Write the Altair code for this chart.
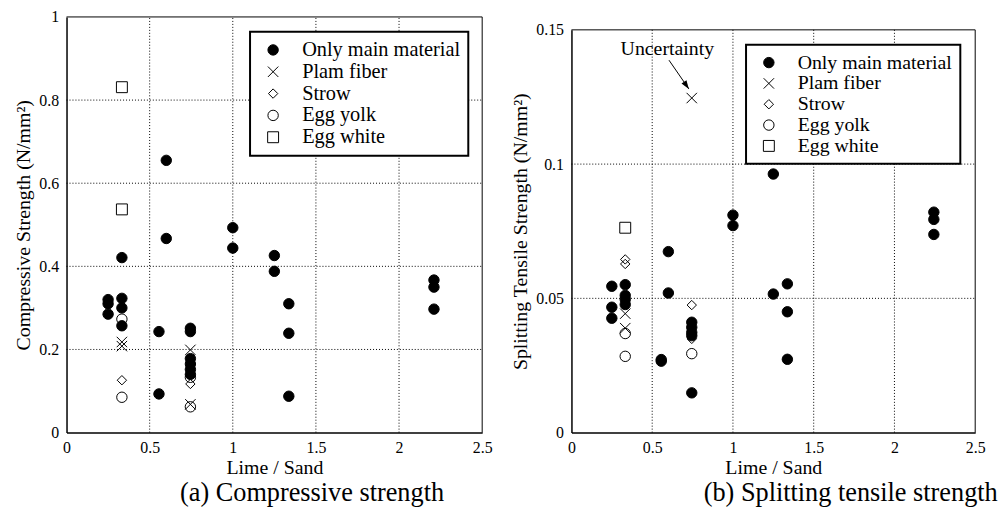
import altair as alt
import pandas as pd

FONT = "Liberation Serif"
SERIES = ["Only main material", "Plam fiber", "Strow", "Egg yolk", "Egg white"]
DRAW_ORDER = ["Plam fiber", "Strow", "Egg yolk", "Egg white", "Only main material"]
SHAPES = ["circle", "M-1,-1L1,1M-1,1L1,-1", "M-0.9,0L0,-0.9L0.9,0L0,0.9Z", "circle",
          "M-1.05,-1.05L1.05,-1.05L1.05,1.05L-1.05,1.05Z"]
FILLS = ["black", "transparent", "transparent", "transparent", "transparent"]
STROKES = ["black"] * 5

x_ticks = [0, 0.5, 1, 1.5, 2, 2.5]
a_y_ticks = [0, 0.2, 0.4, 0.6, 0.8, 1]
b_y_ticks = [0, 0.05, 0.1, 0.15]

# ---- (a) Compressive strength ----
a_main_x = [0.25, 0.25, 0.25, 0.333, 0.333, 0.333, 0.333, 0.556, 0.556, 0.6, 0.6,
            0.745, 0.745, 0.745, 0.745, 0.745, 0.745, 1.0, 1.0, 1.25, 1.25,
            1.337, 1.337, 1.337, 2.21, 2.21, 2.21]
a_main_y = [0.32, 0.31, 0.285, 0.421, 0.323, 0.300, 0.257, 0.243, 0.093, 0.655, 0.467,
            0.251, 0.243, 0.178, 0.165, 0.152, 0.14, 0.493, 0.444, 0.426, 0.388,
            0.31, 0.239, 0.0875, 0.367, 0.35, 0.297]
a_plam_x = [0.333, 0.333, 0.745, 0.745]
a_plam_y = [0.218, 0.208, 0.199, 0.068]
a_strow_x = [0.333, 0.745]
a_strow_y = [0.126, 0.117]
a_yolk_x = [0.333, 0.333, 0.745, 0.745]
a_yolk_y = [0.273, 0.085, 0.133, 0.062]
a_white_x = [0.333, 0.333]
a_white_y = [0.831, 0.537]

# ---- (b) Splitting tensile strength ----
b_main_x = [0.25, 0.25, 0.25, 0.333, 0.333, 0.333, 0.333, 0.556, 0.556, 0.6, 0.6,
            0.745, 0.745, 0.745, 0.745, 0.745, 1.0, 1.0, 1.25, 1.25,
            1.337, 1.337, 1.337, 2.244, 2.244, 2.244]
b_main_y = [0.0545, 0.0467, 0.0426, 0.0551, 0.0511, 0.0496, 0.0477, 0.0272, 0.0266, 0.0674, 0.052,
            0.0411, 0.0392, 0.0373, 0.0361, 0.0148, 0.081, 0.0771, 0.0963, 0.0516,
            0.0554, 0.045, 0.0273, 0.0821, 0.0794, 0.0738]
b_plam_x = [0.333, 0.333, 0.745]
b_plam_y = [0.0443, 0.0389, 0.1246]
b_strow_x = [0.333, 0.333, 0.745, 0.745]
b_strow_y = [0.0645, 0.0628, 0.0475, 0.0349]
b_yolk_x = [0.333, 0.333, 0.745]
b_yolk_y = [0.0369, 0.0284, 0.0294]
b_white_x = [0.333]
b_white_y = [0.0763]

# annotation (right panel)
note_text = ["Uncertainty"]
note_x = [0.594]
note_y = [0.1429]
arrow_x = [0.604]
arrow_y = [0.1387]
arrow_x2 = [0.727]
arrow_y2 = [0.128]


def frame(groups):
    rows = []
    for name in DRAW_ORDER:
        xs, ys = groups[name]
        for xv, yv in zip(xs, ys):
            rows.append({"x": xv, "y": yv, "series": name})
    return pd.DataFrame(rows)


a_df = frame({"Only main material": (a_main_x, a_main_y), "Plam fiber": (a_plam_x, a_plam_y),
              "Strow": (a_strow_x, a_strow_y), "Egg yolk": (a_yolk_x, a_yolk_y),
              "Egg white": (a_white_x, a_white_y)})
b_df = frame({"Only main material": (b_main_x, b_main_y), "Plam fiber": (b_plam_x, b_plam_y),
              "Strow": (b_strow_x, b_strow_y), "Egg yolk": (b_yolk_x, b_yolk_y),
              "Egg white": (b_white_x, b_white_y)})


def panel(df, ytitle, ydomain, yticks, yfmt, yrange, caption, cap_dx, leg_x, leg_y, leg_fs,
          w, h, extra=None):
    xenc = alt.X("x:Q", scale=alt.Scale(domain=[0, 2.5], nice=False, zero=False),
                 axis=alt.Axis(values=x_ticks, format=".1~f", title="Lime / Sand", grid=False,
                               labelFlush=False, titlePadding=2, labelPadding=7))
    yenc = alt.Y("y:Q", scale=alt.Scale(domain=ydomain, nice=False, zero=False, range=yrange),
                 axis=alt.Axis(values=yticks, format=yfmt, title=ytitle, grid=False,
                               titlePadding=5, labelPadding=8))
    legend = alt.Legend(orient="none", legendX=leg_x, legendY=leg_y, title=None,
                        labelFont=FONT, labelFontSize=leg_fs, labelColor="black", labelLimit=300,
                        labelOffset=19, symbolOffset=5, padding=8, rowPadding=1,
                        strokeColor="black", fillColor="white",
                        symbolStrokeColor="black", symbolStrokeWidth=1, symbolSize=110)
    pts = alt.Chart(df).mark_point(filled=True, strokeWidth=1, opacity=1, size=110).encode(
        x=xenc, y=yenc,
        shape=alt.Shape("series:N", scale=alt.Scale(domain=SERIES, range=SHAPES), legend=legend),
        fill=alt.Fill("series:N", scale=alt.Scale(domain=SERIES, range=FILLS), legend=legend),
        stroke=alt.Stroke("series:N", scale=alt.Scale(domain=SERIES, range=STROKES), legend=legend),
    )
    # dotted grid at the interior tick values
    gx = [v for v in x_ticks if 0 < v < 2.5]
    gy = [v for v in yticks if ydomain[0] < v < ydomain[1]]
    grid_df = pd.DataFrame({
        "x": gx + [0] * len(gy), "x2": gx + [2.5] * len(gy),
        "y": [ydomain[0]] * len(gx) + gy, "y2": [ydomain[1]] * len(gx) + gy})
    grid = alt.Chart(grid_df).mark_rule(color="black", strokeWidth=1, strokeDash=[1, 2]).encode(
        x=xenc, y=yenc, x2="x2:Q", y2="y2:Q")
    border_df = pd.DataFrame({"x": [0, 2.5], "x2": [2.5, 2.5],
                              "y": [ydomain[1], ydomain[0]], "y2": [ydomain[1], ydomain[1]]})
    border = alt.Chart(border_df).mark_rule(color="black", strokeWidth=1).encode(
        x=xenc, y=yenc, x2="x2:Q", y2="y2:Q")
    layers = [grid, border, pts]
    if extra is not None:
        layers += extra(xenc, yenc)
    return alt.layer(*layers).properties(
        width=w, height=h,
        title=alt.TitleParams(text=caption, orient="bottom", anchor="middle", frame="group",
                              dx=cap_dx, fontSize=26.5, font=FONT, fontWeight="normal",
                              color="black", offset=3)
    ).resolve_scale(shape="shared", fill="shared", stroke="shared")


def annotation(xenc, yenc):
    tdf = pd.DataFrame({"x": note_x, "y": note_y, "t": note_text})
    txt = alt.Chart(tdf).mark_text(font=FONT, fontSize=20, align="center", baseline="middle",
                                   color="black").encode(x=xenc, y=yenc, text="t:N")
    adf = pd.DataFrame({"x": arrow_x, "y": arrow_y, "x2": arrow_x2, "y2": arrow_y2})
    line = alt.Chart(adf).mark_rule(color="black", strokeWidth=1).encode(
        x=xenc, y=yenc, x2="x2:Q", y2="y2:Q")
    hdf = pd.DataFrame({"x": arrow_x2, "y": arrow_y2})
    head = alt.Chart(hdf).mark_point(shape="M0,0L-0.35,-1L0.35,-1Z", filled=True, color="black",
                                     opacity=1, size=300, angle=325.4).encode(x=xenc, y=yenc)
    return [line, head, txt]


H = 419
left = panel(a_df, "Compressive Strength (N/mm²)", [0, 1], a_y_ticks, ".1~f", [H, 0],
             "(a) Compressive strength", 38, 185, 15, 20.5, 419, H)
right = panel(b_df, "Splitting Tensile Strength (N/mm²)", [0, 0.15], b_y_ticks, ".2~f", [H, 13],
              "(b) Splitting tensile strength", 78, 176, 28, 20, 407, H, extra=annotation)

chart = alt.hconcat(left, right, spacing=17).resolve_scale(
    shape="independent", fill="independent", stroke="independent"
).resolve_legend(
    shape="independent", fill="independent", stroke="independent"
).properties(
    padding={"left": 5, "top": -2, "right": 0, "bottom": 0}
).configure_axis(
    labelFont=FONT, titleFont=FONT, labelFontSize=16, titleFontSize=20, titleFontWeight="normal",
    labelColor="black", titleColor="black", domainColor="black", domainWidth=1.5,
    ticks=False, tickSize=0
).configure_view(stroke="transparent").configure_legend(strokeWidth=2)

chart.save("out.html", embed_options={"renderer": "svg", "actions": False})
